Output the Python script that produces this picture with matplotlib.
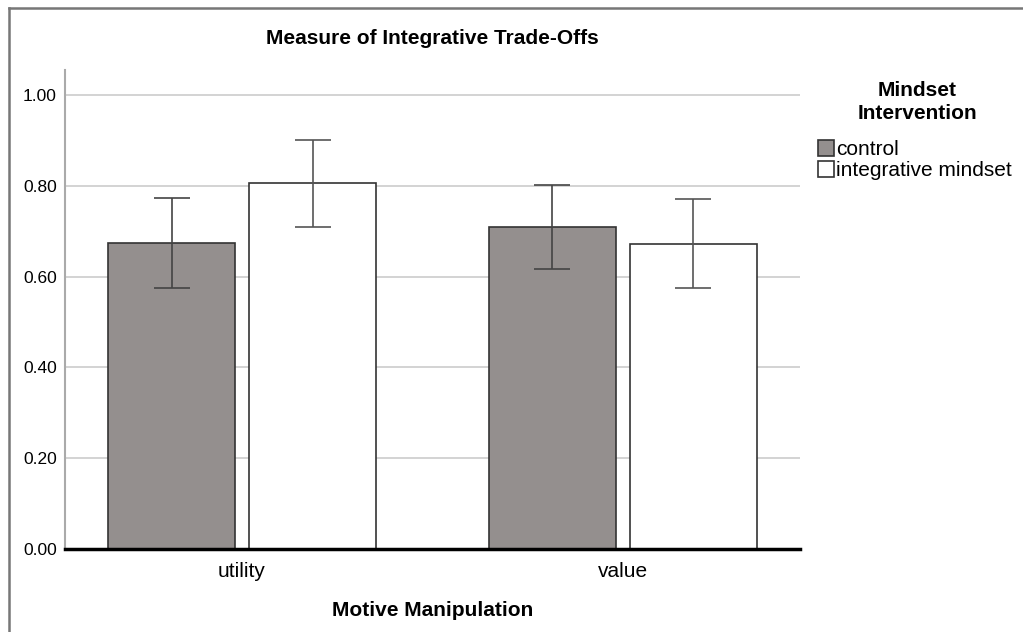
import numpy as np
import matplotlib.pyplot as plt
from matplotlib.lines import Line2D

plt.rcParams['font.family'] = ['Liberation Sans', 'DejaVu Sans']

# data
motives = ['utility', 'value']
groups = ['control', 'integrative mindset']
means_control = [0.674, 0.710]
means_integr = [0.807, 0.673]
lo_control = [0.575, 0.616]
hi_control = [0.773, 0.803]
lo_integr = [0.710, 0.576]
hi_integr = [0.901, 0.772]

fig = plt.figure(figsize=(10.23, 6.32), dpi=100)
ax = fig.add_axes([0.0635, 0.1313, 0.7185, 0.7577])

x = np.arange(len(motives))
w = 0.333
off = 0.185

err_c = [np.array(means_control) - np.array(lo_control), np.array(hi_control) - np.array(means_control)]
err_i = [np.array(means_integr) - np.array(lo_integr), np.array(hi_integr) - np.array(means_integr)]

ax.bar(x - off, means_control, w, color='#948f8e', edgecolor='#333333', linewidth=1.2,
       label=groups[0], zorder=2)
ax.bar(x + off, means_integr, w, color='white', edgecolor='#333333', linewidth=1.2,
       label=groups[1], zorder=2)
ax.errorbar(x - off, means_control, yerr=err_c, fmt='none', ecolor='#444444',
            elinewidth=1.2, capsize=13, capthick=1.2, zorder=3)
ax.errorbar(x + off, means_integr, yerr=err_i, fmt='none', ecolor='#555555',
            elinewidth=1.2, capsize=13, capthick=1.2, zorder=3)

ax.set_xlim(-0.465, 1.465)
ax.set_ylim(0, 1.055)
ax.set_yticks(np.arange(0, 1.01, 0.2))
ax.set_yticklabels([f'{v:.2f}' for v in np.arange(0, 1.01, 0.2)], fontsize=12.5)
ax.set_xticks(x)
ax.set_xticklabels(motives, fontsize=15)
ax.tick_params(axis='x', length=0, pad=9)
ax.tick_params(axis='y', length=0, pad=6)
ax.yaxis.grid(True, color='#cccccc', linewidth=1.2, zorder=0)
ax.set_axisbelow(True)

for s in ['top', 'right']:
    ax.spines[s].set_visible(False)
ax.spines['left'].set_color('#aaaaaa')
ax.spines['left'].set_linewidth(1.5)
ax.spines['bottom'].set_color('black')
ax.spines['bottom'].set_linewidth(2.5)
ax.spines['bottom'].set_zorder(4)

ax.set_title('Measure of Integrative Trade-Offs', fontsize=15, fontweight='bold', pad=19)
ax.set_xlabel('Motive Manipulation', fontsize=15, fontweight='bold', labelpad=15)

# legend title drawn separately so the gap to the entries can be set
fig.text(917 / 1023, 1 - 102 / 632, 'Mindset\nIntervention', ha='center', va='center',
         fontsize=15, fontweight='bold', linespacing=1.25)
leg = ax.legend(loc='upper left', bbox_to_anchor=(818 / 1023, 1 - 140 / 632),
                bbox_transform=fig.transFigure, frameon=False, fontsize=15,
                handlelength=0.75, handleheight=0.8, handletextpad=0.1,
                labelspacing=0.1, borderaxespad=0, borderpad=0)

# frame lines on the left and top edges only
fx, fy = 8.5 / 1023, 1 - 8 / 632
fig.lines.append(Line2D([fx, fx], [0, fy], transform=fig.transFigure, color='#777777', linewidth=1.8))
fig.lines.append(Line2D([fx, 1], [fy, fy], transform=fig.transFigure, color='#777777', linewidth=1.8))

fig.savefig('out.png', dpi=100)
